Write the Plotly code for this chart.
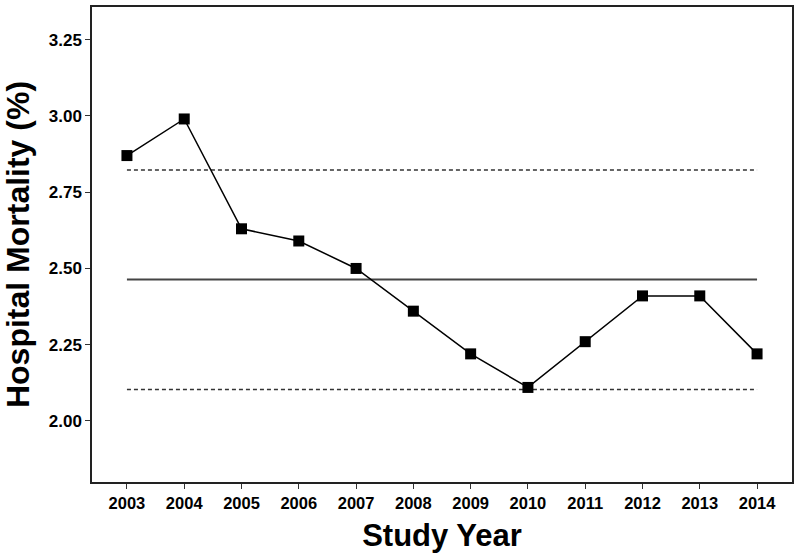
import plotly.graph_objects as go

years = [2003, 2004, 2005, 2006, 2007, 2008, 2009, 2010, 2011, 2012, 2013, 2014]
mortality = [2.87, 2.99, 2.63, 2.59, 2.50, 2.36, 2.22, 2.11, 2.26, 2.41, 2.41, 2.22]
line_years = [2003, 2014]
mean_line = [2.464, 2.464]
upper_line = [2.823, 2.823]
lower_line = [2.103, 2.103]
y_ticks = [2.00, 2.25, 2.50, 2.75, 3.00, 3.25]

FONT = "Liberation Sans, Arial, sans-serif"

fig = go.Figure()
fig.add_trace(go.Scatter(x=line_years, y=upper_line, mode="lines",
                         line=dict(color="#333333", width=1.5, dash="4px,3px"), hoverinfo="skip"))
fig.add_trace(go.Scatter(x=line_years, y=lower_line, mode="lines",
                         line=dict(color="#333333", width=1.5, dash="4px,3px"), hoverinfo="skip"))
fig.add_trace(go.Scatter(x=line_years, y=mean_line, mode="lines",
                         line=dict(color="#444444", width=2), hoverinfo="skip"))
fig.add_trace(go.Scatter(x=years, y=mortality, mode="lines+markers",
                         line=dict(color="black", width=1.5),
                         marker=dict(symbol="square", size=11, color="black")))

fig.update_layout(
    width=800, height=558,
    margin=dict(l=92, r=8, t=7, b=76, autoexpand=False),
    plot_bgcolor="white", paper_bgcolor="white",
    showlegend=False,
    font=dict(family=FONT, color="black"),
)
fig.update_xaxes(
    range=[2002.39, 2014.61], tickmode="array", tickvals=years,
    ticks="outside", ticklen=5, tickwidth=1, tickcolor="#333333",
    showline=True, linecolor="#222222", linewidth=1.5, mirror=True,
    showgrid=False, zeroline=False, automargin=False,
    tickfont=dict(family=FONT, size=16.5, weight="bold", color="black"),
    title=dict(text="Study Year", font=dict(family=FONT, size=31, weight="bold", color="black"), standoff=14),
)
fig.update_yaxes(
    range=[1.80, 3.357], tickmode="array", tickvals=y_ticks,
    ticktext=[f"{v:.2f}" for v in y_ticks],
    ticks="outside", ticklen=5, tickwidth=1, tickcolor="#333333",
    showline=True, linecolor="#222222", linewidth=1.5, mirror=True,
    showgrid=False, zeroline=False, automargin=False,
    tickfont=dict(family=FONT, size=17, weight="bold", color="black"),
    title=dict(text="Hospital Mortality (%)", font=dict(family=FONT, size=32, weight="bold", color="black"), standoff=14),
)

fig.write_html("out.html", config={"displayModeBar": False},
               post_script="document.body.style.margin='0px';")
